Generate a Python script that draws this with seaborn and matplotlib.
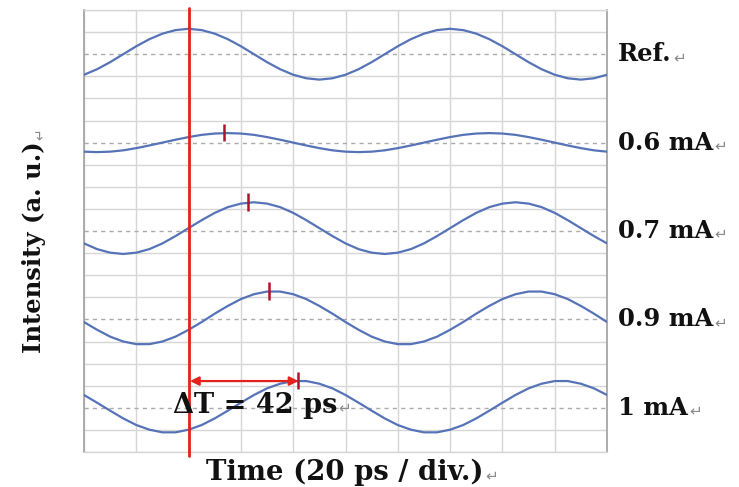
import numpy as np
import pandas as pd
import matplotlib
matplotlib.use("Agg")
import matplotlib.pyplot as plt
import seaborn as sns

# ---------------- data ----------------
time_ps = [0, 5, 10, 15, 20, 25, 30, 35, 40, 45, 50, 55, 60, 65, 70, 75, 80, 85, 90, 95,
           100, 105, 110, 115, 120, 125, 130, 135, 140, 145, 150, 155, 160, 165, 170, 175,
           180, 185, 190, 195, 200]

ref_trace = [-0.93, -0.68, -0.36, 0.00, 0.36, 0.68, 0.93, 1.09, 1.15, 1.09, 0.93, 0.68, 0.36,
             0.00, -0.36, -0.68, -0.93, -1.09, -1.15, -1.09, -0.93, -0.68, -0.36, 0.00, 0.36,
             0.68, 0.93, 1.09, 1.15, 1.09, 0.93, 0.68, 0.36, 0.00, -0.36, -0.68, -0.93, -1.09,
             -1.15, -1.09, -0.93]
trace_0p6mA = [-0.41, -0.43, -0.41, -0.35, -0.25, -0.13, 0.00, 0.13, 0.25, 0.35, 0.41, 0.43,
               0.41, 0.35, 0.25, 0.13, 0.00, -0.13, -0.25, -0.35, -0.41, -0.43, -0.41, -0.35,
               -0.25, -0.13, 0.00, 0.13, 0.25, 0.35, 0.41, 0.43, 0.41, 0.35, 0.25, 0.13, 0.00,
               -0.13, -0.25, -0.35, -0.41]
trace_0p7mA = [-0.56, -0.82, -0.98, -1.04, -0.98, -0.82, -0.56, -0.23, 0.13, 0.49, 0.82, 1.08,
               1.24, 1.30, 1.24, 1.08, 0.82, 0.49, 0.13, -0.23, -0.56, -0.82, -0.98, -1.04,
               -0.98, -0.82, -0.56, -0.23, 0.13, 0.49, 0.82, 1.08, 1.24, 1.30, 1.24, 1.08, 0.82,
               0.49, 0.13, -0.23, -0.56]
trace_0p9mA = [-0.12, -0.47, -0.78, -1.00, -1.12, -1.12, -1.00, -0.78, -0.47, -0.12, 0.26, 0.61,
               0.92, 1.14, 1.26, 1.26, 1.14, 0.92, 0.61, 0.26, -0.12, -0.47, -0.78, -1.00,
               -1.12, -1.12, -1.00, -0.78, -0.47, -0.12, 0.26, 0.61, 0.92, 1.14, 1.26, 1.26,
               1.14, 0.92, 0.61, 0.26, -0.12]
trace_1mA = [0.58, 0.23, -0.13, -0.48, -0.78, -0.99, -1.11, -1.11, -0.99, -0.78, -0.48, -0.13,
             0.23, 0.58, 0.88, 1.09, 1.21, 1.21, 1.09, 0.88, 0.58, 0.23, -0.13, -0.48, -0.78,
             -0.99, -1.11, -1.11, -0.99, -0.78, -0.48, -0.13, 0.23, 0.58, 0.88, 1.09, 1.21,
             1.21, 1.09, 0.88, 0.58]

trace_labels = ["Ref.", "0.6 mA", "0.7 mA", "0.9 mA", "1 mA"]
peak_marker_ps = [None, 53.5, 62.7, 70.7, 82.0]   # red peak markers
ref_peak_ps = 40                                   # red reference line
delta_t_ps = 42
x_label = "Time (20 ps / div.)"
y_label = "Intensity (a. u.)"

# ---------------- layout / style ----------------
series = [ref_trace, trace_0p6mA, trace_0p7mA, trace_0p9mA, trace_1mA]
centers = [18, 14, 10, 6, 2]          # vertical position of each trace (grid units)

sns.set_theme(style="white")
plt.rcParams["font.family"] = ["DejaVu Serif", "DejaVu Sans"]

W, H = 739, 487
fig = plt.figure(figsize=(W / 100, H / 100), dpi=100)
ax = fig.add_axes([84 / W, 1 - 452 / H, 523 / W, 442 / H])

frames = []
for lab, vals, c in zip(trace_labels, series, centers):
    frames.append(pd.DataFrame({"time": time_ps, "y": np.asarray(vals) + c, "trace": lab}))
df = pd.concat(frames, ignore_index=True)

grid_c = "#d6d6d6"
ax.set_xlim(0, 200)
ax.set_ylim(0, 20)
ax.set_xticks(range(0, 201, 20))
ax.set_yticks([i for i in range(21) if i not in centers])
ax.grid(True, color=grid_c, lw=1.0)
ax.tick_params(length=0, labelbottom=False, labelleft=False)
for s in ax.spines.values():
    s.set_color(grid_c)
    s.set_linewidth(1.0)
for side in ("left", "right"):
    ax.spines[side].set_color("#a6a6a6")
    ax.spines[side].set_linewidth(1.3)

for c in centers:
    ax.axhline(c, color="#ababab", lw=1.0, ls=(0, (3, 3)), zorder=1)

sns.lineplot(data=df, x="time", y="y", units="trace", estimator=None,
             color="#5673b8", lw=1.6, ax=ax, legend=False, zorder=3)
ax.set_xlabel("")
ax.set_ylabel("")

red = "#e2231d"
ax.axvline(ref_peak_ps, color=red, lw=2.0, ymin=-0.008, ymax=1.005, clip_on=False, zorder=4)

for t, vals, c in zip(peak_marker_ps, series, centers):
    if t is None:
        continue
    pk = c + max(vals)
    ax.vlines(t, pk - 0.38, pk + 0.42, color="#b3122f", lw=1.8, zorder=5)

y_arrow = centers[-1] + max(trace_1mA)
ax.annotate("", xy=(ref_peak_ps, y_arrow), xytext=(ref_peak_ps + delta_t_ps, y_arrow),
            arrowprops=dict(arrowstyle="<|-|>", color=red, lw=1.6, shrinkA=0, shrinkB=1,
                            mutation_scale=13), zorder=5)

txt_kw = dict(fontweight="bold", family=["DejaVu Serif", "DejaVu Sans"], color="#111111")
ret_kw = dict(color="#8a8a8a", family=["DejaVu Sans"], textcoords="offset points")

dt = ax.text(34, 1.76, f"\u0394T = {delta_t_ps} ps", fontsize=19.5, ha="left",
             va="baseline", zorder=6, **txt_kw)
ax.annotate("\u21b5", xy=(1, 0.05), xycoords=dt, xytext=(1, 2), ha="left", va="bottom",
            fontsize=11, **ret_kw)

for lab, c in zip(trace_labels, centers):
    t = ax.text(1.021, c, lab, transform=ax.get_yaxis_transform(), ha="left", va="center",
                fontsize=17.5, **txt_kw)
    ax.annotate("\u21b5", xy=(1, 0.05), xycoords=t, xytext=(1, 0), ha="left", va="bottom",
                fontsize=11, **ret_kw)

xl = fig.text(345 / W, 1 - 459 / H, x_label, fontsize=19.8, ha="center", va="top", **txt_kw)
ax.annotate("\u21b5", xy=(1, 0.12), xycoords=xl, xytext=(1, 0), ha="left", va="bottom",
            fontsize=11, **ret_kw)

yl = fig.text(34 / W, 1 - 247 / H, y_label, fontsize=17.5, rotation=90, ha="center",
              va="center", **txt_kw)
ax.annotate("\u21b5", xy=(0.8, 1), xycoords=yl, xytext=(0, 1), ha="center", va="bottom",
            rotation=90, fontsize=10, **ret_kw)

fig.savefig("out.png", dpi=100)
